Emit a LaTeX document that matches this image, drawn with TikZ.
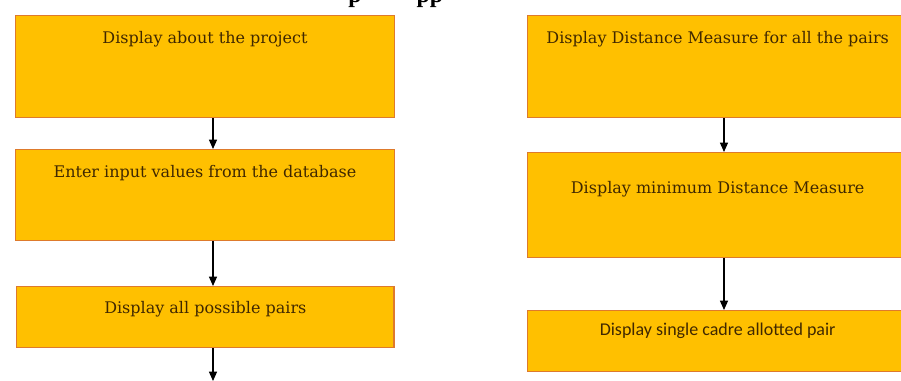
\documentclass[tikz,border=0pt]{standalone}
\usepackage{fontspec}
\setmainfont{DejaVu Serif}
\newfontfamily\calibrifont{Carlito}
\newfontfamily\titlefont{Liberation Serif}
\usetikzlibrary{arrows.meta}

\definecolor{boxfill}{RGB}{255,192,0}
\definecolor{boxedge}{RGB}{222,122,44}
\definecolor{boxtext}{RGB}{64,40,0}

\tikzset{
  procbox/.style={draw=boxedge, line width=1pt, fill=boxfill, text=boxtext,
    inner xsep=0pt, inner ysep=0pt, anchor=north west,
    font=\fontsize{12}{14}\selectfont},
  flow/.style={draw=black, line width=0.9pt, -{Triangle[width=6pt,length=7pt]}},
  titlebit/.style={font=\titlefont\bfseries\fontsize{18}{20}\selectfont, anchor=base, inner sep=0pt}
}

\begin{document}
\begin{tikzpicture}[x=0.75pt,y=-0.75pt]
    \useasboundingbox (0,0) rectangle (901,380);
    \clip (0,0) rectangle (901,380);
    % heading, only its descenders fall inside the frame
    \node[titlebit] (ttlp) at (355,2) {p};
    \node[titlebit] (ttlpp) at (430,2) {pp};
    % left column
    \node[procbox,minimum width=284pt,text height=21pt,text depth=55.5pt] (about) at (15,15) {Display about the project};
    \node[procbox,minimum width=284pt,text height=21pt,text depth=47.25pt] (input) at (15,149) {Enter input values from the database};
    \node[procbox,minimum width=283pt,text height=20pt,text depth=25.75pt] (pairs) at (16,286) {Display all possible pairs};
    % right column
    \node[procbox,minimum width=285pt,text height=21pt,text depth=55.5pt] (dist) at (527,15) {Display Distance Measure for all the pairs};
    \node[procbox,minimum width=285pt,text height=30.75pt,text depth=48pt] (mindist) at (527,152) {Display minimum Distance Measure};
    \node[procbox,minimum width=285pt,text height=18.75pt,text depth=27pt,font=\calibrifont\fontsize{13.5}{15}\selectfont] (cadre) at (527,310) {Display single cadre allotted pair};
    % arrows
    \coordinate (lx) at (213,0);
    \coordinate (rx) at (724,0);
    \coordinate (lend) at (213,381);
    \draw[flow] (about.south -| lx) -- (input.north -| lx);
    \draw[flow] (input.south -| lx) -- (pairs.north -| lx);
    \draw[flow] (pairs.south -| lx) -- (lend);
    \draw[flow] (dist.south -| rx) -- (mindist.north -| rx);
    \draw[flow] (mindist.south -| rx) -- (cadre.north -| rx);
\end{tikzpicture}
\end{document}
